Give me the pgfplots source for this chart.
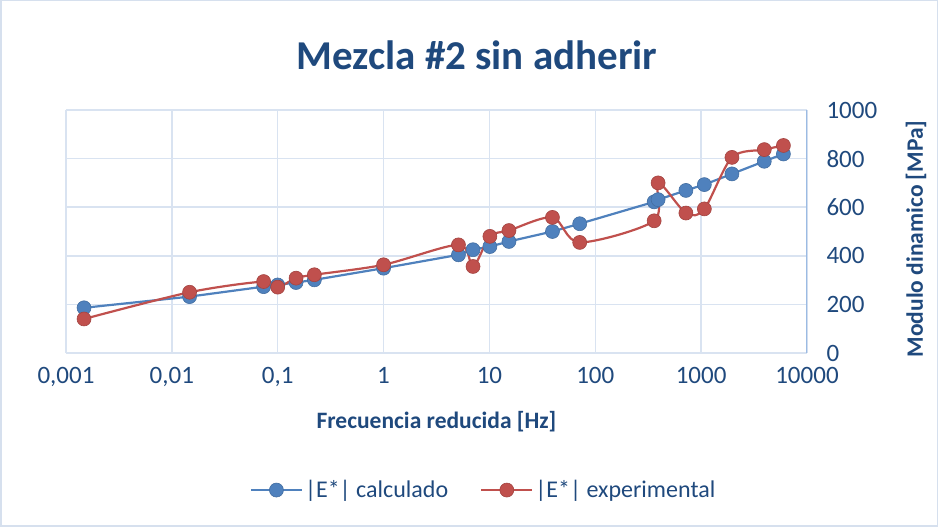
\documentclass[border=0pt]{standalone}
\usepackage{fontspec}
\setmainfont{Carlito}
\usepackage{pgfplots}
\pgfplotsset{compat=1.18}
\definecolor{TxtBlue}{HTML}{1F497D}
\definecolor{SerBlue}{HTML}{4F81BD}
\definecolor{SerRed}{HTML}{C0504D}
\definecolor{GridCol}{HTML}{D9E3F1}
\definecolor{AxisCol}{HTML}{9BBBE3}
\definecolor{FrameCol}{HTML}{D6E0EE}

\pgfplotstableread{
f       calc  expe
0.00148 186   140
0.0147  232   250
0.0736  273   294
0.1     280   271
0.149   290   308
0.222   301   322
1.0     349   363
5.1     404   445
7.0     425   356
10.1    438   480
15.3    459   504
39.4    500   558
71.3    532   455
360     622   544
392     631   700
718     669   576
1072    693   593
1955    737   805
3950    789   837
5990    819   854
}\datatable

\begin{document}
\begin{tikzpicture}[x=1pt,y=1pt]
% chart frame (938 x 527)
\draw[FrameCol, line width=1.5pt, use as bounding box] (0.75,0.75) rectangle (937.25,526.25);
\node[font=\fontsize{41}{46}\selectfont\bfseries, text=TxtBlue] at (477,472) {Mezcla \#2 sin adherir};

\begin{axis}[
    at={(66pt,174pt)}, anchor=south west,
    scale only axis, width=741pt, height=243pt,
    xmode=log, xmin=0.001, xmax=10000,
    ymin=0, ymax=1000,
    xtick={0.001,0.01,0.1,1,10,100,1000,10000},
    xticklabels={{0,001},{0,01},{0,1},1,10,100,1000,10000},
    minor xtick={}, xminorticks=false,
    ytick={0,200,...,1000},
    tick style={draw=none},
    major tick length=0pt,
    grid=major,
    major grid style={GridCol, line width=1.5pt},
    axis line style={draw=none},
    axis y line*=right,
    yticklabel pos=right,
    /pgf/number format/assume math mode=true,
    /pgf/number format/1000 sep={},
    tick label style={font=\fontsize{25}{28}\selectfont, text=TxtBlue},
    yticklabel style={anchor=west, xshift=16pt},
    xticklabel style={anchor=north, yshift=-11pt},
    xlabel={Frecuencia reducida [Hz]},
    ylabel={Modulo dinamico [MPa]},
    label style={font=\fontsize{23.5}{26}\selectfont\bfseries, text=TxtBlue},
    xlabel style={at={(axis description cs:0.5,-0.284)}, anchor=center},
    ylabel style={at={(axis description cs:1.147,0.469)}, anchor=center},
    legend columns=2,
    legend style={at={(axis description cs:0.5635,-0.564)}, anchor=center,
        draw=none, fill=none, font=\fontsize{24}{27}\selectfont, text=TxtBlue,
        /tikz/every even column/.append style={column sep=30pt}},
    legend image code/.code={
        \draw[#1, mark=none] (0pt,0pt) -- (51pt,0pt);
        \draw[#1, only marks] plot coordinates {(25.5pt,0pt)};
    },
]
\draw[AxisCol, line width=2pt] (rel axis cs:1,0) -- (rel axis cs:1,1);
\addplot[SerBlue, line width=2.2pt, mark=*, mark size=7pt,
    mark options={fill=SerBlue, draw=SerBlue!85!black, line width=0.6pt}]
    table[x=f, y=calc] {\datatable};
\addlegendentry{|E*| calculado}
\addplot[SerRed, line width=2.2pt, smooth, tension=0.5, mark=*, mark size=7pt,
    mark options={fill=SerRed, draw=SerRed!85!black, line width=0.6pt}]
    table[x=f, y=expe] {\datatable};
\addlegendentry{|E*| experimental}
\end{axis}
\end{tikzpicture}
\end{document}
